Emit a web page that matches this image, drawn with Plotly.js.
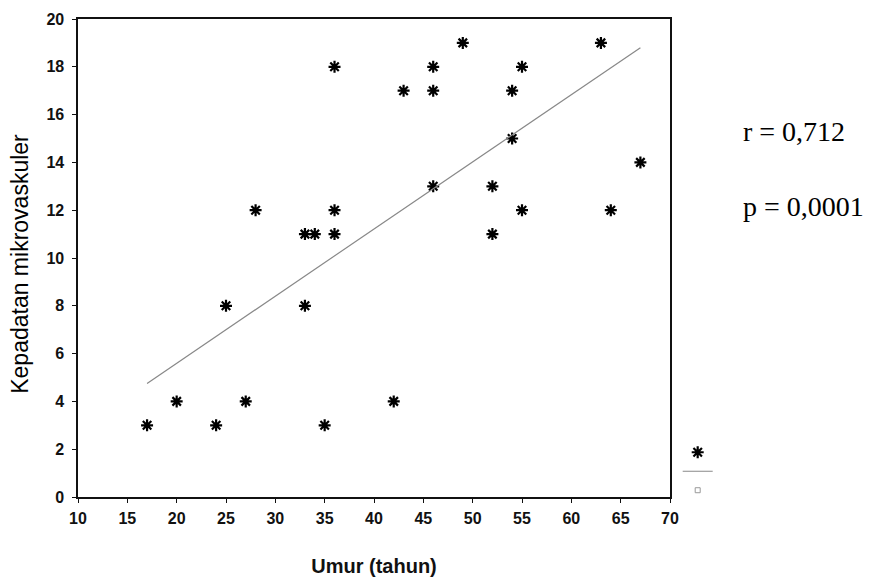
<!DOCTYPE html>
<html>
<head>
<meta charset="utf-8">
<script src="https://cdn.plot.ly/plotly-3.0.1.min.js"></script>
<style>html,body{margin:0;padding:0;background:#fff;}#chart{width:878px;height:578px;}</style>
</head>
<body>
<div id="chart"></div>
<script>
// Umur (tahun) vs Kepadatan mikrovaskuler
const umur = [17, 20, 24, 27, 25, 28, 33, 33, 34, 36, 36, 36, 35, 42,
              49, 63, 46, 55, 43, 46, 54, 54, 46, 52, 67, 55, 64, 52];
const kepadatan = [3, 4, 3, 4, 8, 12, 8, 11, 11, 12, 11, 18, 3, 4,
                   19, 19, 18, 18, 17, 17, 17, 15, 13, 13, 14, 12, 12, 11];
// regression line end points
const fitX = [17, 67];
const fitY = [4.75, 18.8];
const xTicks = [10, 15, 20, 25, 30, 35, 40, 45, 50, 55, 60, 65, 70];
const yTicks = [0, 2, 4, 6, 8, 10, 12, 14, 16, 18, 20];
const xTitle = 'Umur (tahun)';
const yTitle = 'Kepadatan mikrovaskuler';
const statLines = ['r = 0,712', 'p = 0,0001'];

const tickFont = {family: 'Liberation Sans, Arial, sans-serif', size: 16, color: '#111', weight: 'bold'};

const traces = [
  {
    x: umur, y: kepadatan, type: 'scatter', mode: 'markers', name: ' ',
    marker: {symbol: 'asterisk-open', size: 10, color: '#000', line: {color: '#000', width: 2.2}},
    showlegend: true, hoverinfo: 'x+y'
  },
  {
    x: fitX, y: fitY, type: 'scatter', mode: 'lines', name: ' ',
    line: {color: '#888', width: 1.2}, showlegend: true
  },
  {
    x: [null], y: [null], type: 'scatter', mode: 'markers', name: ' ',
    marker: {symbol: 'square-open', size: 5, color: '#999', line: {color: '#999', width: 1}},
    showlegend: true
  }
];

const layout = {
  width: 878, height: 578,
  margin: {l: 77.5, r: 208, t: 19, b: 81},
  paper_bgcolor: '#fff', plot_bgcolor: '#fff',
  font: {family: 'Liberation Sans, Arial, sans-serif', size: 15, color: '#000'},
  xaxis: {
    range: [10, 70], tickvals: xTicks, ticktext: xTicks.map(String),
    showgrid: false, zeroline: false,
    showline: true, linecolor: '#111', linewidth: 1.6, mirror: true,
    ticks: 'outside', ticklen: 4, tickwidth: 1, tickcolor: '#111',
    ticklabelstandoff: 2,
    tickfont: tickFont,
    title: {text: xTitle, font: {family: 'Liberation Sans, Arial, sans-serif', size: 20, color: '#111', weight: 'bold'}, standoff: 33}
  },
  yaxis: {
    range: [0, 20], tickvals: yTicks, ticktext: yTicks.map(String),
    showgrid: false, zeroline: false,
    showline: true, linecolor: '#111', linewidth: 1.6, mirror: true,
    ticks: 'outside', ticklen: 4, tickwidth: 1, tickcolor: '#111',
    ticklabelstandoff: 5,
    tickfont: tickFont
  },
  showlegend: true,
  legend: {
    x: 1.013, xanchor: 'left', y: 0.124, yanchor: 'top',
    font: {size: 8}, itemwidth: 30, tracegroupgap: 0,
    bgcolor: 'rgba(0,0,0,0)'
  },
  annotations: [
    {xref: 'paper', yref: 'paper', x: -0.097, y: 0.487, xanchor: 'center', yanchor: 'middle',
     text: yTitle, textangle: -90, showarrow: false,
     font: {family: 'Liberation Sans, Arial, sans-serif', size: 23, color: '#000'}},
    {xref: 'paper', yref: 'paper', x: 1.12, y: 0.765, xanchor: 'left', yanchor: 'middle',
     text: statLines[0], showarrow: false,
     font: {family: 'Liberation Serif, Times New Roman, serif', size: 28, color: '#000'}},
    {xref: 'paper', yref: 'paper', x: 1.12, y: 0.607, xanchor: 'left', yanchor: 'middle',
     text: statLines[1], showarrow: false,
     font: {family: 'Liberation Serif, Times New Roman, serif', size: 28, color: '#000'}}
  ]
};

Plotly.newPlot('chart', traces, layout, {displayModeBar: false, staticPlot: true});
</script>
</body>
</html>
